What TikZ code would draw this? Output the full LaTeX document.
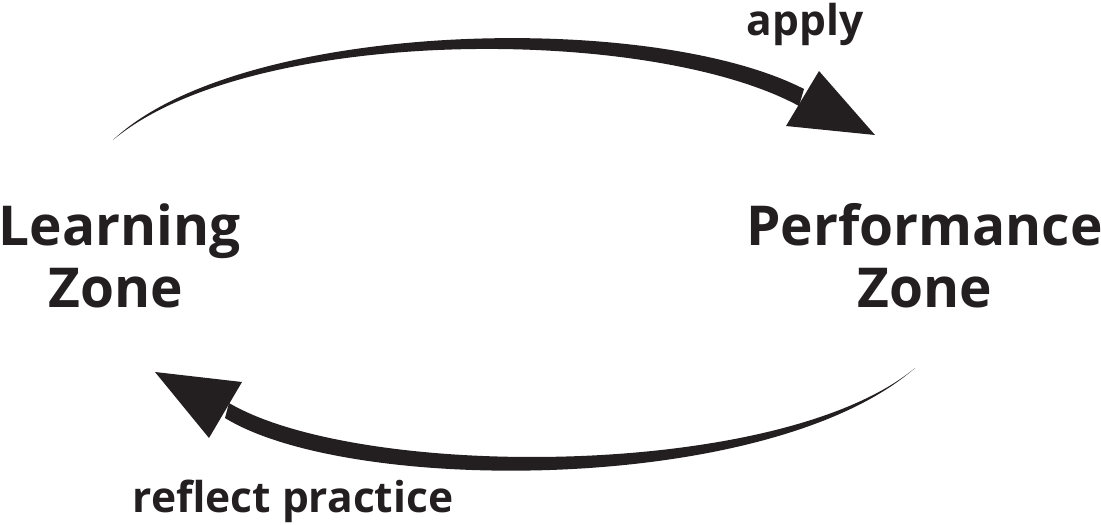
\documentclass[tikz,border=0pt]{standalone}
\usepackage{fontspec}
\setmainfont{Open Sans}
\definecolor{ink}{HTML}{231F20}
\begin{document}
\begin{tikzpicture}[x=1pt,y=-1pt,
  zone/.style={font=\fontsize{55}{62}\selectfont\bfseries, text=ink, align=center, inner sep=0pt},
  lbl/.style={font=\fontsize{42.5}{50}\selectfont\bfseries, text=ink, inner sep=0pt, anchor=base},
  arrowfill/.style={fill=ink, draw=none}]
\useasboundingbox (0,0) rectangle (1101,525);
% zone labels
\node[zone, anchor=base] (learn) at (119.5,245) {Learning};
\node[zone, anchor=base] (learnz) at (116,307) {Zone};
\node[zone, anchor=base] (perf) at (924.5,245) {Performance};
\node[zone, anchor=base] (perfz) at (925,307) {Zone};
\node[lbl] (apply) at (805,35) {apply};
\node[lbl] (refl) at (293,512) {reflect practice};
% top arrow
\coordinate (ts) at (113,140);
\coordinate (tu) at (804,89);
\coordinate (tl) at (799,106);
\path[arrowfill] (ts) .. controls (240,20) and (650,10) .. (tu)
  -- (tl) .. controls (650,25) and (250,25) .. (ts) -- cycle;
\path[arrowfill] (819,71) -- (875,135) -- (786,126) -- cycle;
% bottom arrow
\coordinate (bs) at (915,368);
\coordinate (bu) at (229,403);
\coordinate (bl) at (225,418);
\path[arrowfill] (bs) .. controls (780,480) and (360,480) .. (bu)
  -- (bl) .. controls (350,495) and (770,495) .. (bs) -- cycle;
\path[arrowfill] (242,382) -- (155,372) -- (209,438) -- cycle;
\end{tikzpicture}
\end{document}
